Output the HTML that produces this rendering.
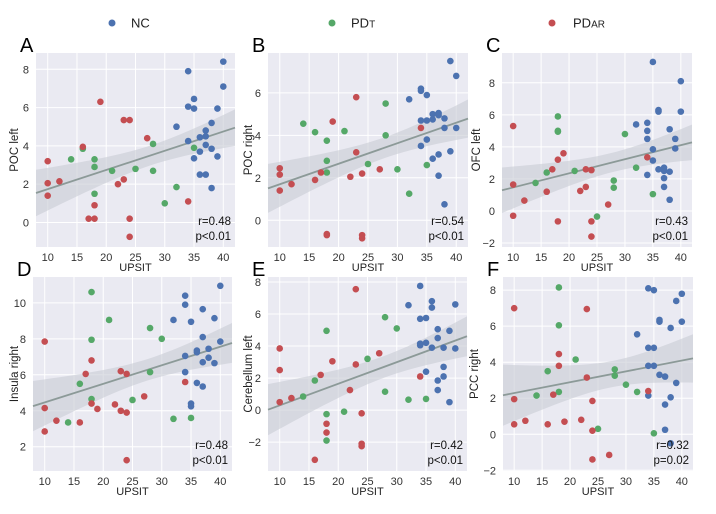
<!DOCTYPE html>
<html><head><meta charset="utf-8">
<style>
body{margin:0;background:#fff;width:716px;height:514px;overflow:hidden;font-family:"Liberation Sans",sans-serif}
svg{display:block}
</style></head><body>
<svg id="fig" width="716" height="514" xmlns="http://www.w3.org/2000/svg">
<g font-size="13" fill="#222">
<g><circle cx="112" cy="23" r="3.5" fill="#4c72b0"/><text x="131" y="27.5">NC</text></g>
<g><circle cx="332" cy="23" r="3.5" fill="#55a868"/><text x="351" y="27.5">PD<tspan font-size="10">T</tspan></text></g>
<g><circle cx="552" cy="23" r="3.5" fill="#c44e52"/><text x="573" y="27.5">PD<tspan font-size="10">AR</tspan></text></g>
</g>
</svg>
<script>
const xTicks=[10,15,20,25,30,35,40];
const panelLetters=["A","B","C","D","E","F"];
const yLabels=["POC left","POC right","OFC left","Insula right","Cerebellum left","PCC right"];
const statR=["r=0.48","r=0.54","r=0.43","r=0.48","r=0.42","r=0.32"];
const statP=["p<0.01","p<0.01","p<0.01","p<0.01","p<0.01","p=0.02"];
const yTicksA=[0,2,4,6,8],yTicksB=[0,2,4,6],yTicksC=[-2,0,2,4,6,8],yTicksD=[2,4,6,8,10],yTicksE=[-2,0,2,4,6,8],yTicksF=[-2,0,2,4,6,8];
// NC
const ncA=[[34,7.9],[40,8.4],[40,7.1],[34,6.05],[35,6.45],[35,5.95],[39,5.95],[32,5.0],[38,5.2],[37,4.8],[36,4.45],[37,4.5],[34,4.25],[37,4.05],[38,3.85],[36,3.7],[39,3.45],[35,3.35],[36,2.5],[37,2.5],[38,1.8]];
const pdtA=[[14,3.3],[16,3.85],[18,3.3],[18,2.9],[18,1.5],[21,2.7],[25,2.8],[28,4.1],[28,2.7],[30,1.0],[32,1.85],[35,3.9]];
const pdarA=[[10,3.2],[10,2.05],[10,1.4],[12,2.15],[16,3.95],[19,6.3],[18,0.9],[17,0.2],[18,0.2],[22,2.0],[23,2.25],[23,5.35],[24,5.35],[24,0.2],[24,-0.75],[27,4.4],[34,1.1]];
const ncB=[[39,7.5],[40,6.8],[34,6.2],[34,6.1],[35,5.9],[32,5.7],[36,5.0],[37,5.05],[37,4.95],[34,4.7],[35,4.7],[36,4.75],[38,4.8],[38,4.35],[40,4.35],[34,3.5],[35,3.8],[39,3.25],[37,3.1],[36,2.9],[37,2.1],[38,0.75]];
const pdtB=[[14,4.55],[16,4.15],[21,4.2],[18,3.75],[18,2.8],[18,2.25],[25,2.65],[28,5.5],[28,4.0],[30,2.4],[32,1.25],[35,2.6]];
const pdarB=[[10,2.45],[10,2.15],[10,1.4],[12,1.7],[16,1.9],[17,2.25],[19,4.65],[22,2.05],[23,5.8],[23,3.2],[24,2.2],[27,2.4],[34,4.35],[18,-0.7],[18,-0.65],[24,-0.7],[24,-0.85]];
const ncC=[[35,9.3],[40,8.1],[36,6.3],[36,6.2],[40,6.2],[32,5.4],[34,5.5],[34,5.0],[38,5.1],[34,4.5],[39,4.5],[35,3.85],[39,3.9],[35,3.15],[36,2.6],[37,2.7],[37,2.5],[38,2.45],[34,2.25],[37,2.05],[37,1.5],[38,0.7]];
const pdtC=[[14,1.75],[16,2.4],[18,5.9],[18,5.0],[18,4.95],[21,2.5],[25,-0.35],[28,1.9],[28,1.45],[30,4.8],[32,2.7],[35,1.05]];
const pdarC=[[10,5.3],[10,1.65],[10,-0.3],[12,0.65],[16,1.2],[17,2.6],[18,3.2],[19,3.6],[18,-0.65],[22,1.25],[23,1.5],[23,2.6],[24,2.55],[24,-0.65],[24,-1.6],[27,0.4],[34,3.35]];
const ncD=[[40,10.95],[34,10.4],[34,9.9],[37,9.65],[32,9.05],[35,8.95],[39,9.15],[37,8.1],[40,7.85],[38,7.45],[36,7.35],[36,7.25],[34,7.05],[38,6.95],[37,6.7],[39,6.65],[34,6.15],[36,5.55],[37,5.35],[35,4.4],[35,4.25]];
const pdtD=[[18,10.6],[21,9.05],[28,8.6],[30,8.0],[18,7.95],[28,6.15],[16,5.5],[18,4.65],[25,4.6],[14,3.35],[32,3.55],[35,3.6]];
const pdarD=[[10,7.85],[10,4.15],[10,2.85],[12,3.45],[16,3.35],[17,6.05],[18,6.8],[18,4.4],[19,4.1],[22,4.35],[23,6.2],[24,6.05],[23,4.0],[24,3.9],[27,4.8],[24,1.25],[34,5.6]];
const ncE=[[34,7.75],[32,6.55],[36,6.8],[36,6.4],[40,6.6],[34,5.7],[35,5.75],[37,5.05],[39,4.95],[37,4.5],[34,4.15],[34,4.05],[35,4.2],[36,3.9],[38,3.9],[40,3.85],[38,2.7],[35,2.4],[38,2.1],[37,1.85],[37,1.25],[39,0.5]];
const pdtE=[[18,4.95],[28,5.8],[30,5.1],[25,3.2],[16,1.85],[14,0.85],[28,1.15],[32,0.65],[35,0.7],[21,-0.1],[18,-0.25],[18,-1.9]];
const pdarE=[[10,3.85],[10,2.5],[10,0.5],[12,0.75],[17,2.2],[19,3.05],[23,7.55],[23,2.85],[27,3.55],[22,1.25],[24,-0.2],[18,-0.85],[18,-1.4],[24,-2.1],[24,-2.25],[16,-3.1],[34,2.1]];
const ncF=[[34,8.1],[35,8.0],[40,7.8],[39,7.4],[36,6.35],[36,6.25],[40,6.25],[38,5.9],[32,5.55],[34,4.8],[35,4.8],[34,3.8],[35,3.8],[36,3.3],[37,3.2],[39,2.85],[34,2.15],[38,2.05],[37,1.65],[37,0.25],[38,-0.5]];
const pdtF=[[18,8.15],[18,6.05],[21,4.15],[16,3.5],[28,3.6],[28,3.25],[30,2.75],[14,2.15],[18,2.35],[32,2.35],[25,0.3],[35,0.05]];
const pdarF=[[10,7.0],[23,6.95],[18,4.45],[18,3.8],[23,3.15],[10,1.95],[17,2.2],[24,1.85],[10,0.55],[12,0.75],[16,0.55],[19,0.7],[22,0.8],[24,0.2],[24,-1.4],[27,-1.15],[34,2.4]];

const NS="http://www.w3.org/2000/svg";
const fig=document.getElementById('fig');
function mk(tag,attrs,parent){const e=document.createElementNS(NS,tag);for(const k in attrs)e.setAttribute(k,attrs[k]);parent.appendChild(e);return e;}
const panels=[
 {l:36,r:235,t:53,b:247,yd:[-1.28,8.85],yt:yTicksA,nc:ncA,pt:pdtA,pa:pdarA,yl:18},
 {l:268,r:468,t:53,b:247,yd:[-1.26,7.88],yt:yTicksB,nc:ncB,pt:pdtB,pa:pdarB,yl:252},
 {l:502,r:692,t:53,b:247,yd:[-2.25,9.86],yt:yTicksC,nc:ncC,pt:pdtC,pa:pdarC,yl:480},
 {l:33,r:232,t:277,b:471,yd:[0.65,11.44],yt:yTicksD,nc:ncD,pt:pdtD,pa:pdarD,yl:18},
 {l:268,r:467,t:277,b:471,yd:[-3.8,8.31],yt:yTicksE,nc:ncE,pt:pdtE,pa:pdarE,yl:252},
 {l:503,r:693,t:277,b:471,yd:[-2.04,8.73],yt:yTicksF,nc:ncF,pt:pdtF,pa:pdarF,yl:478}
];
const xd=[8,42];
panels.forEach((p,i)=>{
 const X=v=>p.l+(v-xd[0])/(xd[1]-xd[0])*(p.r-p.l);
 const Y=v=>p.b-(v-p.yd[0])/(p.yd[1]-p.yd[0])*(p.b-p.t);
 const g=mk('g',{},fig);
 
 
 const bg=mk('rect',{x:p.l,y:p.t,width:p.r-p.l,height:p.b-p.t,fill:'#eaeaf2'},g);
 
 
 xTicks.forEach(t=>{
  const gl=mk('line',{x1:X(t),x2:X(t),y1:p.t,y2:p.b,stroke:'#fff','stroke-width':1},g);
  
  
  const tl=mk('text',{x:X(t),y:p.b+14,'text-anchor':'middle','font-size':11,fill:'#333'},g);
  
  
  tl.textContent=t;
 });
 p.yt.forEach(t=>{
  const gl=mk('line',{x1:p.l,x2:p.r,y1:Y(t),y2:Y(t),stroke:'#fff','stroke-width':1},g);
  
  
  const tl=mk('text',{x:p.l-7,y:Y(t)+4,'text-anchor':'end','font-size':11,fill:'#333'},g);
  
  
  tl.textContent=t<0?'\u2212'+(-t):t;
 });
 // regression from data
 const all=p.nc.concat(p.pt,p.pa);const n=all.length;
 const mx=all.reduce((s,d)=>s+d[0],0)/n,my=all.reduce((s,d)=>s+d[1],0)/n;
 let sxx=0,sxy=0;all.forEach(d=>{sxx+=(d[0]-mx)**2;sxy+=(d[0]-mx)*(d[1]-my);});
 const b=sxy/sxx,a=my-b*mx;
 let sse=0;all.forEach(d=>{sse+=(d[1]-a-b*d[0])**2;});
 const s=Math.sqrt(sse/(n-2));
 const up=[],lo=[];
 for(let k=0;k<=40;k++){const xv=xd[0]+k*(xd[1]-xd[0])/40;const se=2.0*s*Math.sqrt(1/n+(xv-mx)**2/sxx);const yv=a+b*xv;up.push(X(xv)+','+Math.max(p.t,Y(yv+se)));lo.unshift(X(xv)+','+Math.min(p.b,Y(yv-se)));}
 const band=mk('polygon',{points:up.concat(lo).join(' '),fill:'#c8ccd4','fill-opacity':0.6},g);
 
 
 const rl=mk('line',{x1:X(xd[0]),y1:Y(a+b*xd[0]),x2:X(xd[1]),y2:Y(a+b*xd[1]),stroke:'#8c9a98','stroke-width':1.8},g);
 
 
 [[p.nc,'#4c72b0','nc'],[p.pt,'#55a868','pdt'],[p.pa,'#c44e52','pdar']].forEach(([arr,c,nm])=>{
  arr.forEach(d=>{
   const pt=mk('circle',{cx:X(d[0]),cy:Y(d[1]),r:3.3,fill:c},g);
   
   
  });
 });
 const st1=mk('text',{x:p.r-4,y:p.b-22,'text-anchor':'end','font-size':11.5,fill:'#111'},g);
 
 
 st1.textContent=statR[i];
 const st2=mk('text',{x:p.r-4,y:p.b-7,'text-anchor':'end','font-size':11.5,fill:'#111'},g);
 
 
 st2.textContent=statP[i];
 const xl=mk('text',{x:(p.l+p.r)/2,y:p.b+24,'text-anchor':'middle','font-size':11,fill:'#222'},g);
 
 
 xl.textContent='UPSIT';
 const cy=(p.t+p.b)/2;
 const yl=mk('text',{x:p.yl,y:cy,'text-anchor':'middle','font-size':11.5,fill:'#222',transform:'rotate(-90 '+p.yl+' '+cy+')'},g);
 
 
 yl.textContent=yLabels[i];
 const lt=mk('text',{x:p.l-16,y:p.t-1,'font-size':20,fill:'#000'},g);
 
 
 lt.textContent=panelLetters[i];
});
</script>
</body></html>
